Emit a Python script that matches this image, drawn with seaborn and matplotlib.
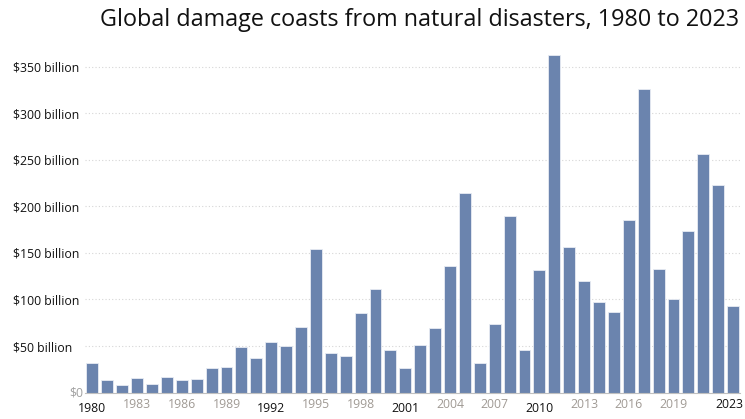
import matplotlib
matplotlib.use("Agg")
import matplotlib.pyplot as plt
import matplotlib.transforms as mtransforms
import seaborn as sns
import pandas as pd


# data (billions of US$)
years = list(range(1980, 2024))
damage = [32, 13, 8, 16, 9, 16.5, 13.6, 14.4, 26, 27,
          49, 37, 54, 50.5, 70.5, 154, 42.6, 39.7, 86, 111.6,
          45.8, 26, 51, 69, 136, 214.6, 32, 73.7, 190, 45.8,
          131.6, 363, 156, 120, 97, 87, 185, 326, 133, 100,
          174, 256, 223, 93]

y_ticks = [50, 100, 150, 200, 250, 300, 350]
y_labels = ["$50 billion", "$100 billion", "$150 billion", "$200 billion",
            "$250 billion", "$300 billion", "$350 billion"]
x_tick_years = [1980, 1983, 1986, 1989, 1992, 1995, 1998, 2001, 2004,
                2007, 2010, 2013, 2016, 2019, 2023]
dark_years = [1980, 1992, 2001, 2010, 2023]

df = pd.DataFrame({"year": years, "damage": damage})

sns.set_style("white")
plt.rcParams["font.family"] = ["Open Sans", "DejaVu Sans"]

fig = plt.figure(figsize=(7.45, 4.19), dpi=100)
ax = fig.add_axes([0.114, 0.063, 0.879, 0.818])

sns.barplot(data=df, x="year", y="damage", color="#6b84ae",
            saturation=1, width=0.8, edgecolor="#e8ecf3", linewidth=0.6,
            ax=ax)

ax.set_xlim(-0.5, 43.45)
ax.set_ylim(0, 368)

# dotted horizontal gridlines
for v in y_ticks:
    ax.axhline(v, color="#d6d6d6", linestyle=(0, (1, 2)), linewidth=0.8,
               zorder=0)

# y labels, left aligned near the figure edge
ax.set_yticks(y_ticks)
ax.set_yticklabels(y_labels, fontsize=8.8, color="#111111", ha="left")
ax.tick_params(axis="y", length=0, pad=52)
ax.text(-0.6, 0, "$0", ha="right", va="center", fontsize=8.8,
        color="#a0a0a0")

# x ticks every three years plus 2023
pos = [years.index(y) for y in x_tick_years]
ax.set_xticks(pos)
ax.set_xticklabels([str(y) for y in x_tick_years], fontsize=8.8)
ax.tick_params(axis="x", length=3, width=0.8, color="#b0b0b0", pad=1,
               direction="out")
for tick, yr in zip(ax.xaxis.get_major_ticks(), x_tick_years):
    if yr in dark_years:
        tick.label1.set_color("#111111")
        if yr != 2023:
            tick.set_pad(3.5)
        else:
            # nudge the last label so it stays inside the figure
            shift = mtransforms.ScaledTranslation(-4 / 100, 0, fig.dpi_scale_trans)
            tick.label1.set_transform(tick.label1.get_transform() + shift)
    else:
        tick.label1.set_color("#a09a94")

ax.set_xlabel("")
ax.set_ylabel("")
sns.despine(ax=ax, left=True)
ax.spines["bottom"].set_color("#c0c0c0")
ax.spines["bottom"].set_linewidth(0.8)

fig.text(0.992, 0.952, "Global damage coasts from natural disasters, 1980 to 2023",
         ha="right", va="center", fontsize=16.8, color="#111111")

fig.savefig("out.png", dpi=100)
